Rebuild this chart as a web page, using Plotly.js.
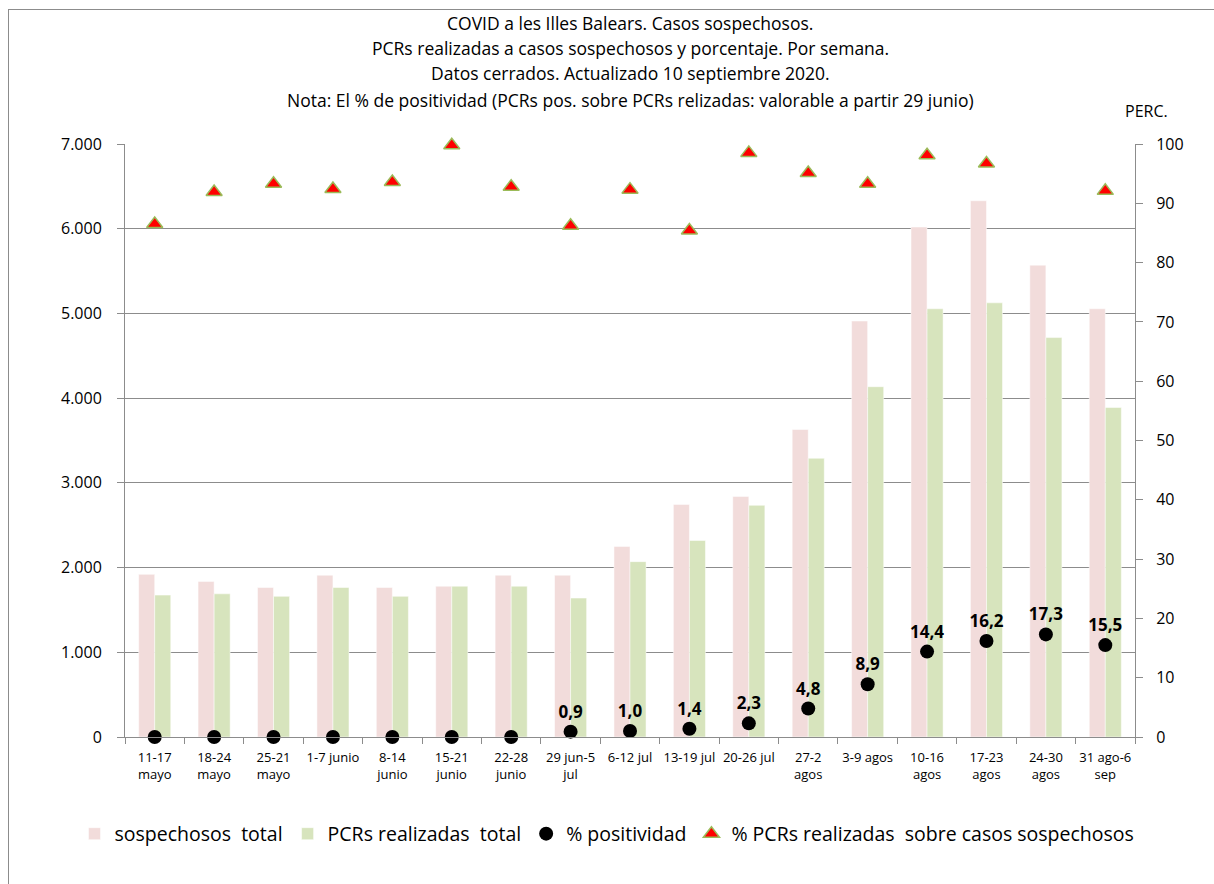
<!DOCTYPE html>
<html>
<head>
<meta charset="utf-8">
<script src="https://cdn.plot.ly/plotly-3.0.1.min.js"></script>
<style>
  html, body { margin: 0; padding: 0; background: #ffffff; }
  #frame { position: absolute; left: 8px; top: 9px; width: 1300px; height: 1000px; border-left: 1px solid #8c8c8c; border-top: 1px solid #8c8c8c; pointer-events: none; }
  #chart { position: absolute; left: 0; top: 0; width: 1214px; height: 884px; }
</style>
</head>
<body>
<div id="chart"></div>
<div id="frame"></div>
<script>
const categories = [
  "11-17<br>mayo", "18-24<br>mayo", "25-21<br>mayo", "1-7 junio", "8-14<br>junio",
  "15-21<br>junio", "22-28<br>junio", "29 jun-5<br>jul", "6-12 jul", "13-19 jul",
  "20-26 jul", "27-2<br>agos", "3-9 agos", "10-16<br>agos", "17-23<br>agos",
  "24-30<br>agos", "31 ago-6<br>sep"
];
const sospechososTotal = [1920, 1835, 1765, 1910, 1765, 1780, 1910, 1910, 2250, 2745, 2840, 3630, 4910, 6020, 6330, 5570, 5055];
const pcrsRealizadasTotal = [1675, 1690, 1660, 1765, 1660, 1780, 1780, 1640, 2070, 2320, 2735, 3290, 4135, 5055, 5125, 4715, 3890];
const positividad = [0, 0, 0, 0, 0, 0, 0, 0.9, 1.0, 1.4, 2.3, 4.8, 8.9, 14.4, 16.2, 17.3, 15.5];
const positividadLabels = ["", "", "", "", "", "", "", "0,9", "1,0", "1,4", "2,3", "4,8", "8,9", "14,4", "16,2", "17,3", "15,5"];
const pctPcrsSobreSospechosos = [86.5, 91.9, 93.3, 92.4, 93.6, 99.8, 92.8, 86.2, 92.3, 85.4, 98.5, 95.1, 93.3, 98.1, 96.7, null, 92.1];
const leftTicks = [0, 1000, 2000, 3000, 4000, 5000, 6000, 7000];
const leftTickLabels = ["0", "1.000", "2.000", "3.000", "4.000", "5.000", "6.000", "7.000"];
const rightTicks = [0, 10, 20, 30, 40, 50, 60, 70, 80, 90, 100];
const titleLines = [
  "COVID a les Illes Balears. Casos sospechosos.",
  "PCRs realizadas a casos sospechosos y porcentaje. Por semana.",
  "Datos cerrados. Actualizado 10 septiembre 2020.",
  "Nota: El % de positividad (PCRs pos. sobre PCRs relizadas: valorable a partir 29 junio)"
];

const FONT = "Open Sans, Noto Sans, sans-serif";
const GRID = "#8c8c8c";

const traces = [
  {
    type: "bar", name: "sospechosos\u00A0 total", x: categories, y: sospechososTotal,
    marker: { color: "#F2DCDB", line: { color: "#ffffff", width: 0.5 } }, hoverinfo: "skip"
  },
  {
    type: "bar", name: "PCRs realizadas\u00A0 total", x: categories, y: pcrsRealizadasTotal,
    marker: { color: "#D7E4BD", line: { color: "#ffffff", width: 0.5 } }, hoverinfo: "skip"
  },
  {
    type: "scatter", mode: "markers+text", name: "% positividad", x: categories, y: positividad,
    yaxis: "y2", text: positividadLabels, textposition: "top center",
    textfont: { family: FONT, size: 17, color: "#000000", weight: "bold" },
    marker: { symbol: "circle", size: 14, color: "#000000" }, hoverinfo: "skip", cliponaxis: false
  },
  {
    type: "scatter", mode: "markers", name: "% PCRs realizadas\u00A0 sobre casos sospechosos", x: categories, y: pctPcrsSobreSospechosos,
    yaxis: "y2",
    marker: { symbol: "triangle-up", size: 14, color: "#FF0000", line: { color: "#9BBB59", width: 1.5 } }, hoverinfo: "skip", cliponaxis: false
  }
];

const Y0 = 737, H = 593;
function py(px) { return (Y0 - px) / H; }

const annotations = titleLines.map((t, i) => ({
  text: t, xref: "paper", yref: "paper", x: 0.5, y: py([23, 48, 73, 100][i]),
  xanchor: "center", yanchor: "middle", showarrow: false,
  font: { family: FONT, size: 17.5, color: "#000000" }
}));
annotations.push({
  text: "PERC.", xref: "paper", yref: "paper", x: (1146 - 125) / 1010, y: py(111),
  xanchor: "center", yanchor: "middle", showarrow: false,
  font: { family: FONT, size: 16, color: "#000000" }
});

const layout = {
  width: 1214, height: 884,
  margin: { l: 125, r: 79, t: 144, b: 147 },
  paper_bgcolor: "rgba(0,0,0,0)", plot_bgcolor: "#ffffff",
  font: { family: FONT, color: "#000000" },
  barmode: "group", bargap: 0.46, bargroupgap: 0,
  showlegend: true,
  legend: {
    orientation: "h", x: -0.05, y: py(834), xanchor: "left", yanchor: "middle",
    font: { family: FONT, size: 19.5, color: "#000000" }, traceorder: "normal",
    itemwidth: 30, bgcolor: "rgba(0,0,0,0)"
  },
  xaxis: {
    type: "category", range: [-0.5, 16.5], autorange: false,
    tickson: "boundaries", ticks: "outside", ticklen: 6, tickcolor: GRID, tickangle: 0,
    showline: true, linecolor: GRID, linewidth: 1, showgrid: false,
    tickfont: { family: FONT, size: 13, color: "#000000" }, ticklabelstandoff: 8, fixedrange: true
  },
  yaxis: {
    range: [0, 7000], tickvals: leftTicks, ticktext: leftTickLabels,
    ticks: "outside", ticklen: 7, tickcolor: GRID,
    showline: true, linecolor: GRID, linewidth: 1,
    showgrid: true, gridcolor: GRID, gridwidth: 1, zeroline: false,
    tickfont: { family: FONT, size: 16, color: "#000000" }, ticklabelstandoff: 12, fixedrange: true
  },
  yaxis2: {
    overlaying: "y", side: "right", range: [0, 100], tickvals: rightTicks,
    ticks: "outside", ticklen: 7, tickcolor: GRID,
    showline: true, linecolor: GRID, linewidth: 1, showgrid: false, zeroline: false,
    tickfont: { family: FONT, size: 16, color: "#000000" }, ticklabelstandoff: 10, fixedrange: true
  },
  annotations: annotations
};

Plotly.newPlot("chart", traces, layout, { displayModeBar: false, staticPlot: true });
</script>
</body>
</html>
